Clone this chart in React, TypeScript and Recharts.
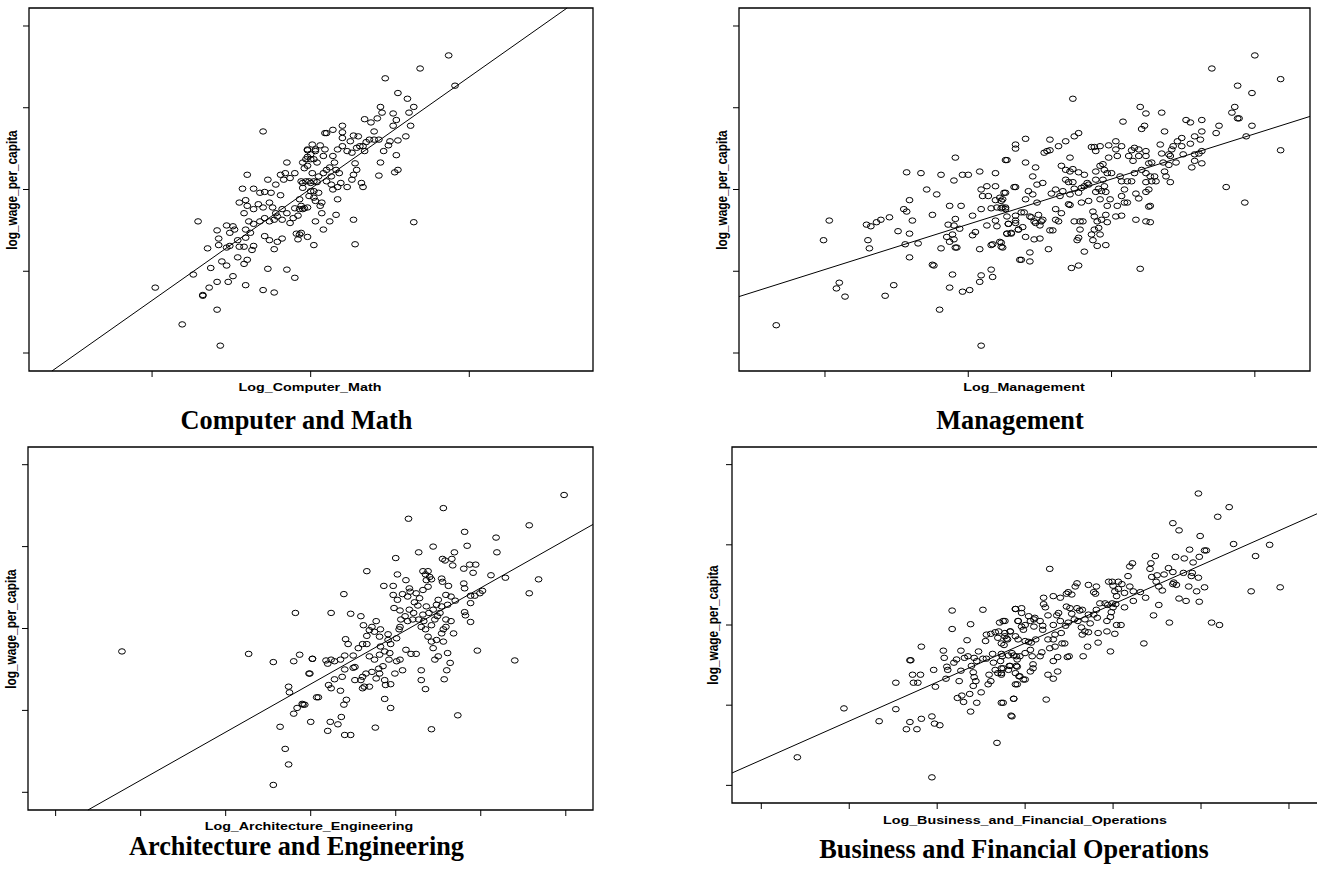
import React from 'react';
import { ScatterChart, Scatter, XAxis, YAxis, ReferenceArea, ReferenceLine } from 'recharts';

type Pt = [number, number];

// ---------- data ----------
const yTickValues = [1, 2, 3, 4, 5];
const computerMathXTicks = [1, 2, 3];
const managementXTicks = [1, 2, 3, 4];
const architectureXTicks = [1, 2, 3, 4, 5, 6, 7];
const businessXTicks = [1, 2, 3, 4, 5, 6, 7];

const computerMathFit = { intercept: 0.276, slope: 1.367 };
const managementFit = { intercept: 1.469, slope: 0.553 };
const architectureFit = { intercept: -0.026, slope: 0.587 };
const businessFit = { intercept: 0.83, slope: 0.486 };

const computerMathPoints: Pt[] = [
  [1.70,3.71],[1.02,1.80],[1.19,1.35],[1.43,1.09],[1.41,1.53],[1.26,1.96],[1.32,1.70],[1.32,1.71],[1.36,1.80],[1.41,1.87],
  [1.48,1.87],[1.51,1.94],[1.59,1.83],[1.70,1.77],[1.77,1.74],[1.37,2.04],[1.44,2.12],[1.47,2.07],[1.54,2.17],[1.58,2.09],
  [1.60,2.14],[1.73,2.03],[1.85,2.02],[1.90,1.92],[1.77,2.27],[1.35,2.28],[1.29,2.61],[1.41,2.50],[1.42,2.40],[1.42,2.32],
  [1.47,2.29],[1.49,2.31],[1.47,2.56],[1.51,2.55],[1.52,2.51],[1.49,2.47],[1.54,2.38],[1.55,2.30],[1.58,2.30],[1.63,2.26],
  [1.64,2.31],[1.59,2.41],[1.62,2.47],[1.59,2.51],[1.61,2.61],[1.64,2.58],[1.68,2.61],[1.71,2.65],[1.74,2.61],[1.77,2.63],
  [1.79,2.67],[1.82,2.63],[1.87,2.59],[1.89,2.65],[1.92,2.68],[1.71,2.43],[1.74,2.38],[1.79,2.36],[1.82,2.40],[1.91,2.46],
  [1.93,2.45],[1.92,2.39],[1.98,2.42],[2.02,2.32],[2.03,2.61],[1.58,2.71],[1.60,2.80],[1.64,2.76],[1.67,2.82],[1.70,2.78],
  [1.74,2.84],[1.76,2.78],[1.78,2.71],[1.82,2.76],[1.85,2.71],[1.90,2.77],[1.93,2.76],[1.96,2.77],[1.55,2.84],[1.59,2.87],
  [1.64,3.01],[1.68,2.96],[1.71,2.97],[1.75,2.96],[1.78,3.06],[1.81,2.93],[1.83,3.12],[1.84,3.20],[1.81,3.18],[1.87,3.14],
  [1.90,3.20],[1.85,3.33],[1.57,3.01],[1.60,3.18],[1.73,3.12],[1.93,2.88],[1.94,3.10],[1.97,3.10],[2.00,3.08],[2.04,3.09],
  [1.96,3.26],[1.98,3.29],[2.01,3.20],[2.00,3.37],[2.04,3.33],[1.98,3.40],[1.98,3.48],[2.03,3.47],[2.01,3.55],[2.00,2.98],
  [2.02,2.90],[2.03,2.86],
  [2.87,4.64],[2.69,4.48],[2.47,4.36],[2.91,4.27],[2.55,4.18],[2.61,4.11],[2.65,4.01],[2.62,3.94],[2.44,4.01],[2.45,3.94],
  [2.42,3.87],[2.38,3.82],[2.34,3.86],[2.52,3.93],[2.54,3.85],[2.52,3.78],[2.63,3.78],[2.60,3.65],[2.55,3.60],[2.50,3.59],
  [2.49,3.54],[2.46,3.47],[2.40,3.61],[2.43,3.61],[2.40,3.71],[2.37,3.61],[2.35,3.58],[2.34,3.47],[2.33,3.53],[2.30,3.65],
  [2.27,3.66],[2.25,3.59],[2.20,3.78],[2.20,3.70],[2.14,3.73],[2.10,3.69],[2.20,3.63],[2.20,3.53],[2.23,3.47],[2.26,3.45],
  [2.29,3.51],[2.31,3.53],[2.54,3.42],[2.55,3.24],[2.53,3.21],[2.44,3.33],[2.43,3.17],[2.28,3.32],[2.29,3.24],[2.27,3.18],
  [2.26,3.12],[2.32,3.08],[2.33,3.03],[2.23,3.03],[2.19,3.08],[2.17,3.03],[2.14,3.00],[2.13,3.06],[2.17,2.88],[2.16,2.69],
  [2.12,2.61],[2.08,2.51],[2.27,2.63],[2.28,2.33],[2.65,2.60],[2.07,2.71],[2.06,2.80],[2.07,2.84],[1.99,2.92],[2.02,2.98],
  [2.05,2.96],[1.99,3.10],[2.02,3.10],[2.05,3.16],[2.08,3.20],[2.10,3.24],[2.12,3.27],[2.16,3.24],[2.18,3.20],[2.10,3.10],
  [2.13,3.16],[1.95,3.33],[1.97,3.37],[2.00,3.43],[2.02,3.37],[2.03,3.49],[1.98,3.49],[2.08,3.41],[2.09,3.49],[2.14,3.41],
  [2.15,3.33],[2.09,3.69],[2.06,3.54],[1.95,3.08],[1.95,3.02],[1.94,2.80],[1.95,2.76],[1.98,2.78],[1.94,2.47],[2.17,3.49],
];

const managementPoints: Pt[] = [
  [0.66,1.34],[0.99,2.38],[1.03,2.62],[1.10,1.86],[1.08,1.79],[1.14,1.69],[1.42,1.70],[1.48,1.83],[1.29,2.57],[1.32,2.55],
  [1.36,2.60],[1.39,2.63],[1.45,2.66],[1.30,2.38],[1.31,2.28],[1.51,2.49],[1.55,2.76],[1.57,2.73],[1.59,2.87],[1.59,2.46],
  [1.56,2.33],[1.59,2.17],[1.61,2.62],[1.65,2.34],[1.57,3.21],[1.67,3.20],[1.71,3.00],[1.75,2.69],[1.78,2.94],[1.75,2.08],
  [1.76,2.07],[1.81,3.18],[1.90,3.11],[1.91,3.39],[1.96,3.18],[2.00,3.18],[2.08,3.22],[1.87,2.80],[1.95,2.80],[1.91,2.64],
  [1.86,2.57],[1.90,2.56],[1.94,2.52],[1.85,2.42],[1.89,2.45],[1.87,2.36],[1.90,2.39],[1.91,2.29],[1.81,2.28],[1.92,2.29],
  [2.03,2.68],[2.03,2.44],[2.05,2.48],[2.08,2.27],[1.89,1.96],[1.87,1.80],[1.96,1.75],[2.01,1.77],[1.80,1.53],[2.09,1.09],
  [2.09,1.95],[2.08,1.87],[2.16,2.02],[2.17,1.93],[2.09,3.00],[2.10,2.92],[2.13,3.04],[2.14,2.92],[2.19,3.04],[2.19,3.20],
  [2.09,2.76],[2.16,2.77],[2.19,2.87],[2.22,2.90],[2.25,2.96],[2.23,2.86],[2.20,2.78],[2.23,2.77],[2.26,2.76],[2.13,2.56],
  [2.19,2.62],[2.20,2.55],[2.16,2.32],[2.17,2.33],[2.22,2.36],[2.24,2.29],[2.27,2.46],[2.28,2.58],[2.30,2.46],[2.33,2.68],
  [2.33,2.62],[2.27,3.36],[2.33,3.55],[2.33,3.50],[2.32,3.03],[2.36,2.14],[2.35,2.51],
  [4.00,4.64],[3.70,4.48],[4.18,4.35],[3.88,4.27],[3.98,4.18],[3.86,4.01],[3.84,3.94],[3.88,3.87],[3.89,3.87],[3.98,3.78],
  [3.94,3.65],[3.75,3.78],[3.73,3.69],[4.18,3.48],[3.80,3.03],[3.93,2.84],[3.63,3.85],[3.52,3.85],[3.55,3.82],[3.63,3.71],
  [3.58,3.65],[3.62,3.61],[3.55,3.56],[3.49,3.63],[3.46,3.59],[3.49,3.53],[3.43,3.53],[3.42,3.49],[3.40,3.43],[3.41,3.41],
  [3.35,3.94],[3.37,3.71],[3.34,3.55],[3.35,3.44],[3.36,3.33],[3.40,3.30],[3.45,3.33],[3.50,3.43],[3.58,3.43],[3.61,3.44],
  [3.63,3.47],[3.56,3.27],[3.58,3.35],[3.63,3.32],[3.37,3.22],[3.38,3.16],[3.41,3.09],[3.20,4.01],[3.24,3.93],[3.08,3.83],
  [3.23,3.78],[3.21,3.74],[3.16,3.51],[3.19,3.49],[3.24,3.47],[3.19,3.41],[3.24,3.41],[3.26,3.32],[3.28,3.33],[3.21,3.24],
  [3.24,3.20],[3.27,3.16],[3.30,3.16],[3.31,3.10],[3.28,3.10],[3.24,3.09],[3.26,3.00],[3.24,2.97],[3.17,2.95],[3.19,2.89],
  [3.26,2.79],[3.27,2.80],[3.17,2.63],[3.24,2.61],[3.27,2.60],[3.20,2.03],[3.14,3.48],[3.12,3.41],[3.15,3.35],[3.16,3.20],
  [3.14,3.10],[3.11,3.10],[3.07,3.10],[3.06,3.16],[3.09,3.00],[3.07,2.92],[3.09,2.84],[3.04,2.80],[3.03,2.67],[3.07,2.68],
  [3.11,2.84],[3.03,3.59],[3.07,3.53],[2.98,3.54],[3.03,3.49],[3.04,3.41],[2.98,3.39],[2.94,3.31],[2.97,3.20],[2.95,3.24],
  [3.00,3.20],[2.94,3.12],[2.95,3.04],[2.93,2.98],[2.96,2.97],[2.92,3.53],[2.88,3.52],[2.86,3.52],[2.89,3.47],[2.92,3.29],
  [2.89,3.22],[2.89,3.12],[2.91,3.01],[2.89,2.97],[2.92,2.88],[2.99,2.88],[2.97,2.80],[2.96,2.69],[2.93,2.63],[2.97,2.60],
  [2.87,2.73],[2.88,2.67],[2.90,2.61],[2.88,2.51],[2.91,2.53],[2.86,2.45],[2.92,2.45],[2.87,2.38],[2.90,2.31],[2.96,2.32],
  [2.84,2.86],[2.83,3.08],[2.81,3.04],[2.84,3.06],[2.79,3.02],[2.77,2.96],[2.79,2.84],[2.70,2.82],[2.71,2.81],[2.78,2.61],
  [2.78,2.51],[2.80,2.61],[2.74,2.61],[2.77,2.41],[2.76,2.38],[2.81,2.24],[2.72,2.04],[2.77,2.07],[2.73,4.11],[2.74,3.65],
  [2.77,3.69],[2.68,3.59],[2.63,3.53],[2.57,3.61],[2.57,3.48],[2.55,3.47],[2.71,3.39],[2.65,3.29],[2.68,3.24],[2.71,3.22],
  [2.73,3.25],[2.77,3.21],[2.81,3.18],[2.68,3.12],[2.70,3.09],[2.73,3.09],[2.74,3.01],[2.71,2.94],[2.66,2.98],[2.61,3.00],
  [2.64,2.92],[2.58,2.95],[2.61,2.76],[2.65,2.71],[2.61,2.63],[2.63,2.61],[2.57,2.50],[2.59,2.50],[2.56,2.27],[2.43,2.23],
  [2.43,2.12],[2.37,2.14],[2.52,2.63],[2.51,2.61],[2.50,2.56],[2.47,2.59],[2.46,2.61],[2.46,2.39],[2.50,2.40],[2.40,2.42],
  [2.35,2.51],[2.38,2.54],[2.30,2.47],[2.27,2.46],[2.33,2.59],[2.28,2.58],[2.27,2.67],[2.37,2.72],[2.39,2.72],[2.43,2.67],
  [2.44,2.66],[2.49,2.69],[2.48,2.84],[2.45,2.94],[2.42,2.98],[2.48,3.06],[2.52,3.08],[2.45,3.16],[2.47,3.27],[2.40,3.33],
  [2.40,2.88],[2.33,3.03],[2.26,2.96],[2.24,2.88],[2.24,2.78],[2.26,2.78],[2.26,3.36],[2.40,3.62],[2.53,3.45],[2.23,2.35],
  [2.23,2.30],
];

const architecturePoints: Pt[] = [
  [1.78,2.72],[3.27,2.69],[3.56,2.59],[3.82,3.19],[3.87,2.68],[3.80,2.60],[4.02,2.63],[3.98,2.45],[3.74,2.29],[3.75,2.22],
  [4.07,2.16],[3.90,2.08],[3.93,2.07],[3.84,2.03],[3.80,1.96],[4.00,1.86],[3.64,1.80],[3.70,1.53],[3.74,1.34],[3.56,1.09],
  [6.98,4.63],[5.56,4.47],[5.15,4.34],[6.57,4.26],[5.81,4.18],[6.18,4.11],[5.84,4.01],[5.44,4.00],[6.19,3.93],[5.27,3.93],
  [5.69,3.93],[5.66,3.85],[5.55,3.85],[5.58,3.83],[5.67,3.77],[5.00,3.86],[4.66,3.70],[5.02,3.66],[5.87,3.78],[5.94,3.78],
  [5.91,3.68],[5.80,3.73],[6.12,3.65],[6.29,3.62],[6.68,3.60],[6.57,3.43],[6.02,3.46],[5.99,3.43],[5.93,3.40],[5.88,3.40],
  [5.88,3.31],[5.88,3.08],[5.81,3.20],[5.82,3.16],[5.80,3.55],[5.81,3.49],[5.96,2.73],[6.40,2.61],[5.73,1.94],[5.42,1.77],
  [4.76,1.79],[5.57,2.38],[5.60,2.49],[5.64,2.58],[5.61,2.70],[5.50,2.66],[5.46,2.62],[5.35,2.26],[5.30,2.37],[5.30,2.49],
  [5.18,2.69],[5.24,2.69],[5.12,2.74],[5.08,2.49],[4.99,2.45],[5.05,2.62],[5.01,2.60],[4.93,2.70],[4.92,2.62],[4.94,2.32],
  [4.87,2.14],[4.94,2.03],[4.81,2.68],[4.85,2.54],[4.81,2.45],[4.77,2.39],[4.80,2.51],[4.87,2.37],[4.88,2.31],[4.75,2.62],
  [4.69,2.66],[4.72,2.47],[4.69,2.29],[4.63,2.29],[4.61,2.27],[4.59,2.37],[4.52,2.37],[4.50,2.52],[4.52,2.53],[4.61,2.41],
  [4.65,2.45],[4.40,2.50],[4.37,2.41],[4.35,2.24],[4.42,2.13],[4.39,2.07],[4.36,1.92],[4.32,1.83],[4.23,1.86],[4.20,1.75],
  [4.40,1.70],[4.47,1.70],[4.21,2.31],[4.24,2.27],[4.28,2.38],[4.09,2.16],[3.99,2.45],[4.02,2.63],[3.91,2.07],[4.18,2.61],
  [4.24,2.62],[4.20,2.57],[4.28,2.60],[4.35,2.62],[4.40,2.67],[4.50,2.67],[4.56,2.76],[4.61,2.81],[4.66,2.81],[4.66,2.91],
  [4.62,3.04],[4.69,2.98],[4.72,3.02],[4.77,3.09],[4.75,2.96],[4.81,2.90],[4.82,2.78],[4.87,2.72],[4.91,2.86],[4.94,2.81],
  [5.01,2.88],[5.04,2.99],[5.05,3.02],[5.06,3.11],[5.11,3.15],[5.14,3.09],[5.20,3.11],[5.21,3.19],[5.27,3.11],[5.30,3.02],
  [5.32,3.17],[5.33,3.09],[5.35,2.99],[5.38,2.90],[5.42,2.84],[5.44,2.76],[5.48,2.86],[5.54,2.94],[5.56,2.99],[5.59,3.02],
  [5.65,3.09],[5.68,2.94],[5.56,2.84],[5.49,3.15],[5.44,3.23],[5.36,3.27],[5.39,3.19],[5.52,3.19],[5.48,3.29],[5.54,3.27],
  [5.50,3.35],[5.38,3.51],[5.32,3.47],[5.24,3.43],[5.22,3.32],[5.16,3.49],[5.17,3.45],[5.12,3.59],[5.14,3.39],[5.08,3.42],
  [5.02,3.35],[4.98,3.25],[4.97,3.41],[4.97,3.52],[4.86,3.52],[5.05,3.22],[5.32,3.70],[5.38,3.70],[5.35,3.66],[5.40,3.63],
  [5.42,3.60],[5.36,3.59],[5.54,3.61],[5.55,3.57],[5.62,3.52],[5.59,3.41],[5.65,3.39],[5.70,3.34],[5.61,3.29],[5.59,3.11],
  [5.46,3.11],[5.42,3.04],[5.26,3.28],[5.16,3.23],[5.28,3.37],[4.24,3.19],[4.47,3.18],[4.59,3.15],[4.39,3.42],[4.41,2.87],
  [4.44,2.81],[4.82,2.99],[4.91,2.93],
];

const businessPoints: Pt[] = [
  [1.41,1.35],[1.94,1.96],[2.34,1.80],[2.53,2.28],[2.53,1.95],[2.69,1.79],[2.65,1.70],[2.77,1.70],[2.82,1.83],[2.94,1.86],
  [2.97,1.77],[3.03,1.75],[2.94,1.10],[2.69,2.56],[2.70,2.56],[2.72,2.38],[2.73,2.28],[2.78,2.28],[2.81,2.38],[2.82,2.73],
  [2.96,2.44],[2.98,2.23],[3.07,2.68],[3.08,2.59],[3.11,2.48],[3.12,2.44],[3.10,2.33],[3.17,3.18],[3.17,2.95],[3.19,2.53],
  [3.22,2.57],[3.27,2.43],[3.27,2.68],[3.31,2.59],[3.34,2.81],[3.38,3.01],[3.35,2.61],[3.39,2.49],[3.41,2.41],[3.42,2.35],
  [3.41,2.24],[3.44,2.30],[3.25,2.30],[3.23,2.09],[3.28,2.12],[3.30,2.04],[3.37,2.14],[3.38,1.92],[3.45,2.03],[3.50,2.16],
  [3.42,2.59],[3.45,2.55],[3.47,2.67],[3.52,3.19],[3.55,2.80],[3.56,2.88],[3.52,2.58],[3.56,2.58],[3.59,2.38],[3.58,2.26],
  [3.61,2.30],[3.61,2.89],[3.66,2.91],[3.70,2.92],[3.69,2.84],[3.63,2.64],[3.64,2.53],[3.66,2.44],[3.69,2.40],[3.73,2.38],
  [3.73,2.46],[3.72,2.55],[3.73,2.64],[3.73,2.03],[3.68,1.53],[3.71,3.03],[3.75,3.05],[3.77,3.05],[3.73,2.77],[3.77,2.86],
  [3.80,2.82],[3.83,2.92],[3.89,3.20],[3.92,3.05],[3.92,2.82],[3.90,2.61],[3.90,2.49],[3.89,2.26],[3.87,2.08],[3.84,1.87],
  [3.82,2.49],[3.89,2.40],[3.93,2.36],
  [5.97,4.64],[6.32,4.47],[6.19,4.35],[5.68,4.27],[5.75,4.18],[5.99,4.11],[6.37,4.01],[6.78,4.00],[6.62,3.86],[6.06,3.93],
  [6.04,3.93],[5.87,3.94],[5.98,3.85],[5.91,3.78],[5.71,3.85],[5.81,3.83],[5.48,3.86],[5.43,3.77],[5.42,3.70],[5.63,3.71],
  [5.68,3.66],[5.58,3.63],[5.80,3.65],[5.90,3.65],[5.97,3.59],[5.89,3.61],[5.69,3.53],[5.72,3.50],[5.68,3.51],[5.50,3.62],
  [5.49,3.54],[5.44,3.60],[5.86,3.48],[5.95,3.42],[6.04,3.47],[6.57,3.42],[6.90,3.47],[5.98,3.29],[5.83,3.30],[5.75,3.33],
  [6.12,3.03],[6.21,3.00],[5.64,3.03],[5.52,3.25],[5.46,3.12],[5.35,2.77],[5.56,3.43],[5.52,3.48],[5.37,3.34],[5.31,3.41],
  [5.23,3.42],[5.19,3.48],[5.23,3.30],[5.17,3.61],[5.22,3.77],[5.19,3.73],[5.06,3.54],[5.10,3.51],[4.99,3.54],[4.95,3.54],
  [5.00,3.49],[5.02,3.42],[5.06,3.45],[5.13,3.40],[5.04,3.36],[5.03,3.26],[4.99,3.27],[4.94,3.25],[5.13,3.22],[5.00,3.22],
  [4.98,3.16],[4.97,3.10],[4.93,3.05],[4.91,3.27],[4.85,3.27],[4.81,3.19],[4.78,3.13],[4.82,3.09],[5.04,3.00],[5.09,3.00],
  [5.02,2.89],[4.93,2.92],[4.83,2.90],[4.83,2.78],[4.97,2.67],[4.78,3.41],[4.80,3.39],[4.72,3.50],[4.81,3.48],[4.59,3.52],
  [4.57,3.48],[4.49,3.41],[4.53,3.38],[4.47,3.39],[4.40,3.34],[4.32,3.36],[4.21,3.34],[4.28,3.70],[4.21,3.26],[4.23,3.22],
  [4.26,3.12],[4.36,3.12],[4.38,3.15],[4.47,3.23],[4.51,3.21],[4.59,3.21],[4.62,3.18],[4.65,3.19],[4.53,3.14],[4.56,3.07],
  [4.49,3.03],[4.60,3.05],[4.68,3.07],[4.72,3.13],[4.74,3.02],[4.64,2.97],[4.68,2.92],[4.65,2.88],[4.72,2.91],[4.46,2.99],
  [4.40,3.05],[4.32,3.00],[4.41,2.90],[4.34,2.88],[4.32,2.82],[4.26,2.82],[4.28,2.71],[4.34,2.73],[4.42,2.77],[4.45,2.77],
  [4.50,2.61],[4.48,2.60],[4.37,2.60],[4.32,2.55],[4.26,2.38],[4.37,2.42],[4.32,2.33],[4.24,2.07],[4.71,2.73],[4.66,2.61],
  [4.20,2.94],[4.17,3.05],[4.11,3.09],[4.20,2.99],[4.10,2.98],[4.12,2.82],[4.07,2.78],[4.04,2.79],[4.00,2.80],[3.96,3.15],
  [3.89,3.20],[3.96,3.21],[4.04,3.11],[4.06,3.05],[4.10,3.07],[4.00,3.00],[3.98,2.94],[3.96,2.98],[3.92,3.05],[3.89,2.86],
  [3.83,2.92],[3.77,2.90],[3.79,2.83],[3.76,2.75],[3.74,2.61],[3.85,2.65],[3.87,2.62],[3.81,2.62],[3.91,2.57],[3.94,2.61],
  [4.00,2.65],[4.06,2.69],[4.08,2.61],[4.17,2.61],[4.19,2.66],[4.09,2.51],[4.09,2.46],[4.06,2.42],[3.91,2.48],[3.83,2.49],
  [3.81,2.44],[3.94,2.36],[3.98,2.32],[4.00,2.32],[3.91,2.26],[3.87,2.08],[3.85,1.86],[3.75,2.03],[3.73,2.40],[3.75,2.46],
];

// ---------- layout ----------
type Box = { left: number; top: number; right: number; bottom: number };

type PanelSpec = {
  title: string;
  xLabel: string;
  points: Pt[];
  fit: { intercept: number; slope: number };
  xTicks: number[];
  xDomain: [number, number];
  yDomain: [number, number];
  box: Box;
  xLabelPos: [number, number];
  titlePos: [number, number];
  yLabelX: number;
};

const panels: PanelSpec[] = [
  {
    title: 'Computer and Math', xLabel: 'Log_Computer_Math', points: computerMathPoints, fit: computerMathFit,
    xTicks: computerMathXTicks, xDomain: [0.224, 3.78], yDomain: [0.78, 5.22],
    box: { left: 29, top: 8, right: 593, bottom: 371 }, xLabelPos: [310, 388], titlePos: [296.5, 421], yLabelX: 13,
  },
  {
    title: 'Management', xLabel: 'Log_Management', points: managementPoints, fit: managementFit,
    xTicks: managementXTicks, xDomain: [0.4, 4.385], yDomain: [0.78, 5.22],
    box: { left: 739, top: 8, right: 1310, bottom: 371 }, xLabelPos: [1024, 388], titlePos: [1010, 421], yLabelX: 723,
  },
  {
    title: 'Architecture and Engineering', xLabel: 'Log_Architecture_Engineering', points: architecturePoints, fit: architectureFit,
    xTicks: architectureXTicks, xDomain: [0.675, 7.32], yDomain: [0.784, 5.216],
    box: { left: 28, top: 447, right: 593, bottom: 810 }, xLabelPos: [308.5, 827], titlePos: [296.5, 847], yLabelX: 12,
  },
  {
    title: 'Business and Financial Operations', xLabel: 'Log_Business_and_Financial_Operations', points: businessPoints, fit: businessFit,
    xTicks: businessXTicks, xDomain: [0.667, 7.33], yDomain: [0.78, 5.22],
    box: { left: 732, top: 447, right: 1318, bottom: 803 }, xLabelPos: [1024.5, 821], titlePos: [1014, 850], yLabelX: 714,
  },
];

const PAD_L = 10;
const PAD_T = 4;
const PAD_R = 4;
const PAD_B = 10;

function fitSegment(fit: { intercept: number; slope: number }, xd: [number, number], yd: [number, number]) {
  const { intercept: a, slope: b } = fit;
  const xa = (yd[0] - a) / b;
  const xb = (yd[1] - a) / b;
  const x1 = Math.max(xd[0], Math.min(xa, xb));
  const x2 = Math.min(xd[1], Math.max(xa, xb));
  return [
    { x: x1, y: a + b * x1 },
    { x: x2, y: a + b * x2 },
  ];
}

const OpenCircle = (props: any) => {
  const { cx, cy } = props;
  if (cx == null || cy == null) return <g />;
  return <ellipse cx={cx} cy={cy} rx={3.4} ry={2.7} fill="none" stroke="#000" strokeWidth={1} />;
};

const EmptyTick = () => <g />;

const sansLabel: React.CSSProperties = {
  position: 'absolute',
  fontFamily: '"Liberation Sans", Arial, sans-serif',
  fontWeight: 'bold',
  fontSize: 11.8,
  lineHeight: 1,
  whiteSpace: 'nowrap',
  color: '#000',
};

const serifTitle: React.CSSProperties = {
  position: 'absolute',
  fontFamily: '"Liberation Serif", "Times New Roman", serif',
  fontWeight: 'bold',
  fontSize: 26.3,
  lineHeight: 1,
  whiteSpace: 'nowrap',
  color: '#000',
};

function Panel({ spec }: { spec: PanelSpec }) {
  const { box, xDomain, yDomain } = spec;
  const w = box.right - box.left + PAD_L + PAD_R;
  const h = box.bottom - box.top + PAD_T + PAD_B;
  const data = spec.points.map(([x, y]) => ({ x, y }));
  const seg = fitSegment(spec.fit, xDomain, yDomain);
  const midY = (box.top + box.bottom) / 2;
  return (
    <>
      <div style={{ position: 'absolute', left: box.left - PAD_L, top: box.top - PAD_T }}>
        <ScatterChart width={w} height={h} margin={{ top: PAD_T, right: PAD_R, left: 0, bottom: 0 }}>
          <XAxis
            type="number" dataKey="x" domain={xDomain} ticks={spec.xTicks} interval={0}
            tick={EmptyTick} tickLine={{ stroke: '#000', strokeWidth: 1 }} tickSize={6}
            axisLine={false} height={PAD_B} allowDataOverflow
          />
          <YAxis
            type="number" dataKey="y" domain={yDomain} ticks={yTickValues} interval={0}
            tick={EmptyTick} tickLine={{ stroke: '#000', strokeWidth: 1 }} tickSize={6}
            axisLine={false} width={PAD_L} allowDataOverflow
          />
          <ReferenceArea
            x1={xDomain[0]} x2={xDomain[1]} y1={yDomain[0]} y2={yDomain[1]}
            fill="none" fillOpacity={0} stroke="#000" strokeWidth={1.3} ifOverflow="visible"
          />
          <ReferenceLine segment={seg} stroke="#000" strokeWidth={1} ifOverflow="visible" />
          <Scatter data={data} shape={OpenCircle} isAnimationActive={false} />
        </ScatterChart>
      </div>
      <div
        style={{
          ...sansLabel,
          left: spec.xLabelPos[0],
          top: spec.xLabelPos[1],
          transform: 'translate(-50%, -50%) scaleX(1.21)',
        }}
      >
        {spec.xLabel}
      </div>
      <div
        style={{
          ...sansLabel,
          left: spec.yLabelX,
          top: midY,
          transform: 'translate(-50%, -50%) rotate(-90deg) scaleY(1.21)',
        }}
      >
        log_wage_per_capita
      </div>
      <div
        style={{
          ...serifTitle,
          left: spec.titlePos[0],
          top: spec.titlePos[1],
          transform: 'translate(-50%, -50%)',
        }}
      >
        {spec.title}
      </div>
    </>
  );
}

export default function App() {
  return (
    <div
      style={{
        position: 'absolute',
        left: 0,
        top: 0,
        width: 1317,
        height: 878,
        background: '#fff',
        overflow: 'hidden',
      }}
    >
      {panels.map((p) => (
        <Panel key={p.title} spec={p} />
      ))}
    </div>
  );
}
